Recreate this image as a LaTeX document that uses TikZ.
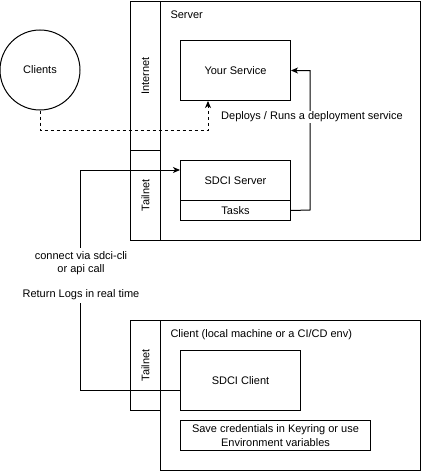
\documentclass[tikz,border=0pt]{standalone}
\usepackage{fontspec}
\setmainfont{Liberation Sans}
\usetikzlibrary{arrows.meta}
\begin{document}
\begin{tikzpicture}[x=1pt,y=-1pt,line width=1pt,
  font=\fontsize{11}{13.5}\selectfont,
  box/.style={draw,rectangle,inner sep=0pt,anchor=north west},
  arr/.style={-{Stealth[length=7pt,width=6pt,inset=2pt]}},
  lbl/.style={fill=white,inner sep=1pt,align=center}]
\useasboundingbox (0,0) rectangle (431,471);
% server area
\node[box,minimum width=260pt,minimum height=239.5pt] (server) at (160,0.5) {};
\node[box,minimum width=30pt,minimum height=149.5pt] (internet) at (130,0.5) {};
\node[rotate=90] at (internet.center) {Internet};
\node[box,minimum width=30pt,minimum height=90pt] (tail1) at (130,150) {};
\node[rotate=90] at (tail1.center) {Tailnet};
\node[anchor=west,inner sep=0pt] (servertitle) at (170,15) {Server};
\node[box,minimum width=110pt,minimum height=60pt] (your) at (180,40) {};
\node at (your.center) {Your Service};
\node[draw,circle,minimum size=80pt,inner sep=0pt] (clients) at (40,70) {Clients};
\node[box,minimum width=110pt,minimum height=40pt] (sdcis) at (180,160) {};
\node at (sdcis.center) {SDCI Server};
\node[box,minimum width=110pt,minimum height=20pt] (tasks) at (180,200) {};
\node at (tasks.center) {Tasks};
% client area
\node[box,minimum width=260pt,minimum height=150pt] (client) at (160,320) {};
\node[box,minimum width=30pt,minimum height=90pt] (tail2) at (130,320) {};
\node[rotate=90] at (tail2.center) {Tailnet};
\node[anchor=west,inner sep=0pt] (clienttitle) at (170,335) {Client (local machine or a CI/CD env)};
\node[box,minimum width=120pt,minimum height=60pt] (sdcic) at (180,350) {};
\node at (sdcic.center) {SDCI Client};
\node[box,minimum width=190pt,minimum height=30pt] (creds) at (180,420) {};
\node[align=center] at (creds.center) {Save credentials in Keyring or use\\Environment variables};
% connectors
\coordinate (d1) at (208,130);
\draw[arr,dash pattern=on 3pt off 3pt] (clients.south) |- (d1) -- (d1 |- your.south);
\coordinate (r1) at (310,210);
\draw[arr] (tasks.east) -- (r1) |- (your.east);
\node[lbl] (deploylbl) at (312,117) {Deploys / Runs a deployment service};
\coordinate (c0) at (180,390);
\coordinate (c1) at (80,390);
\coordinate (c2) at (80,170);
\draw[arr] (c0) -- (c1) -- (c2) -- (c2 -| sdcis.west);
\node[lbl,inner sep=3pt] (connlbl) at (81,275.5) {connect via sdci-cli\\or api call\\[11pt]Return Logs in real time};
\end{tikzpicture}
\end{document}
